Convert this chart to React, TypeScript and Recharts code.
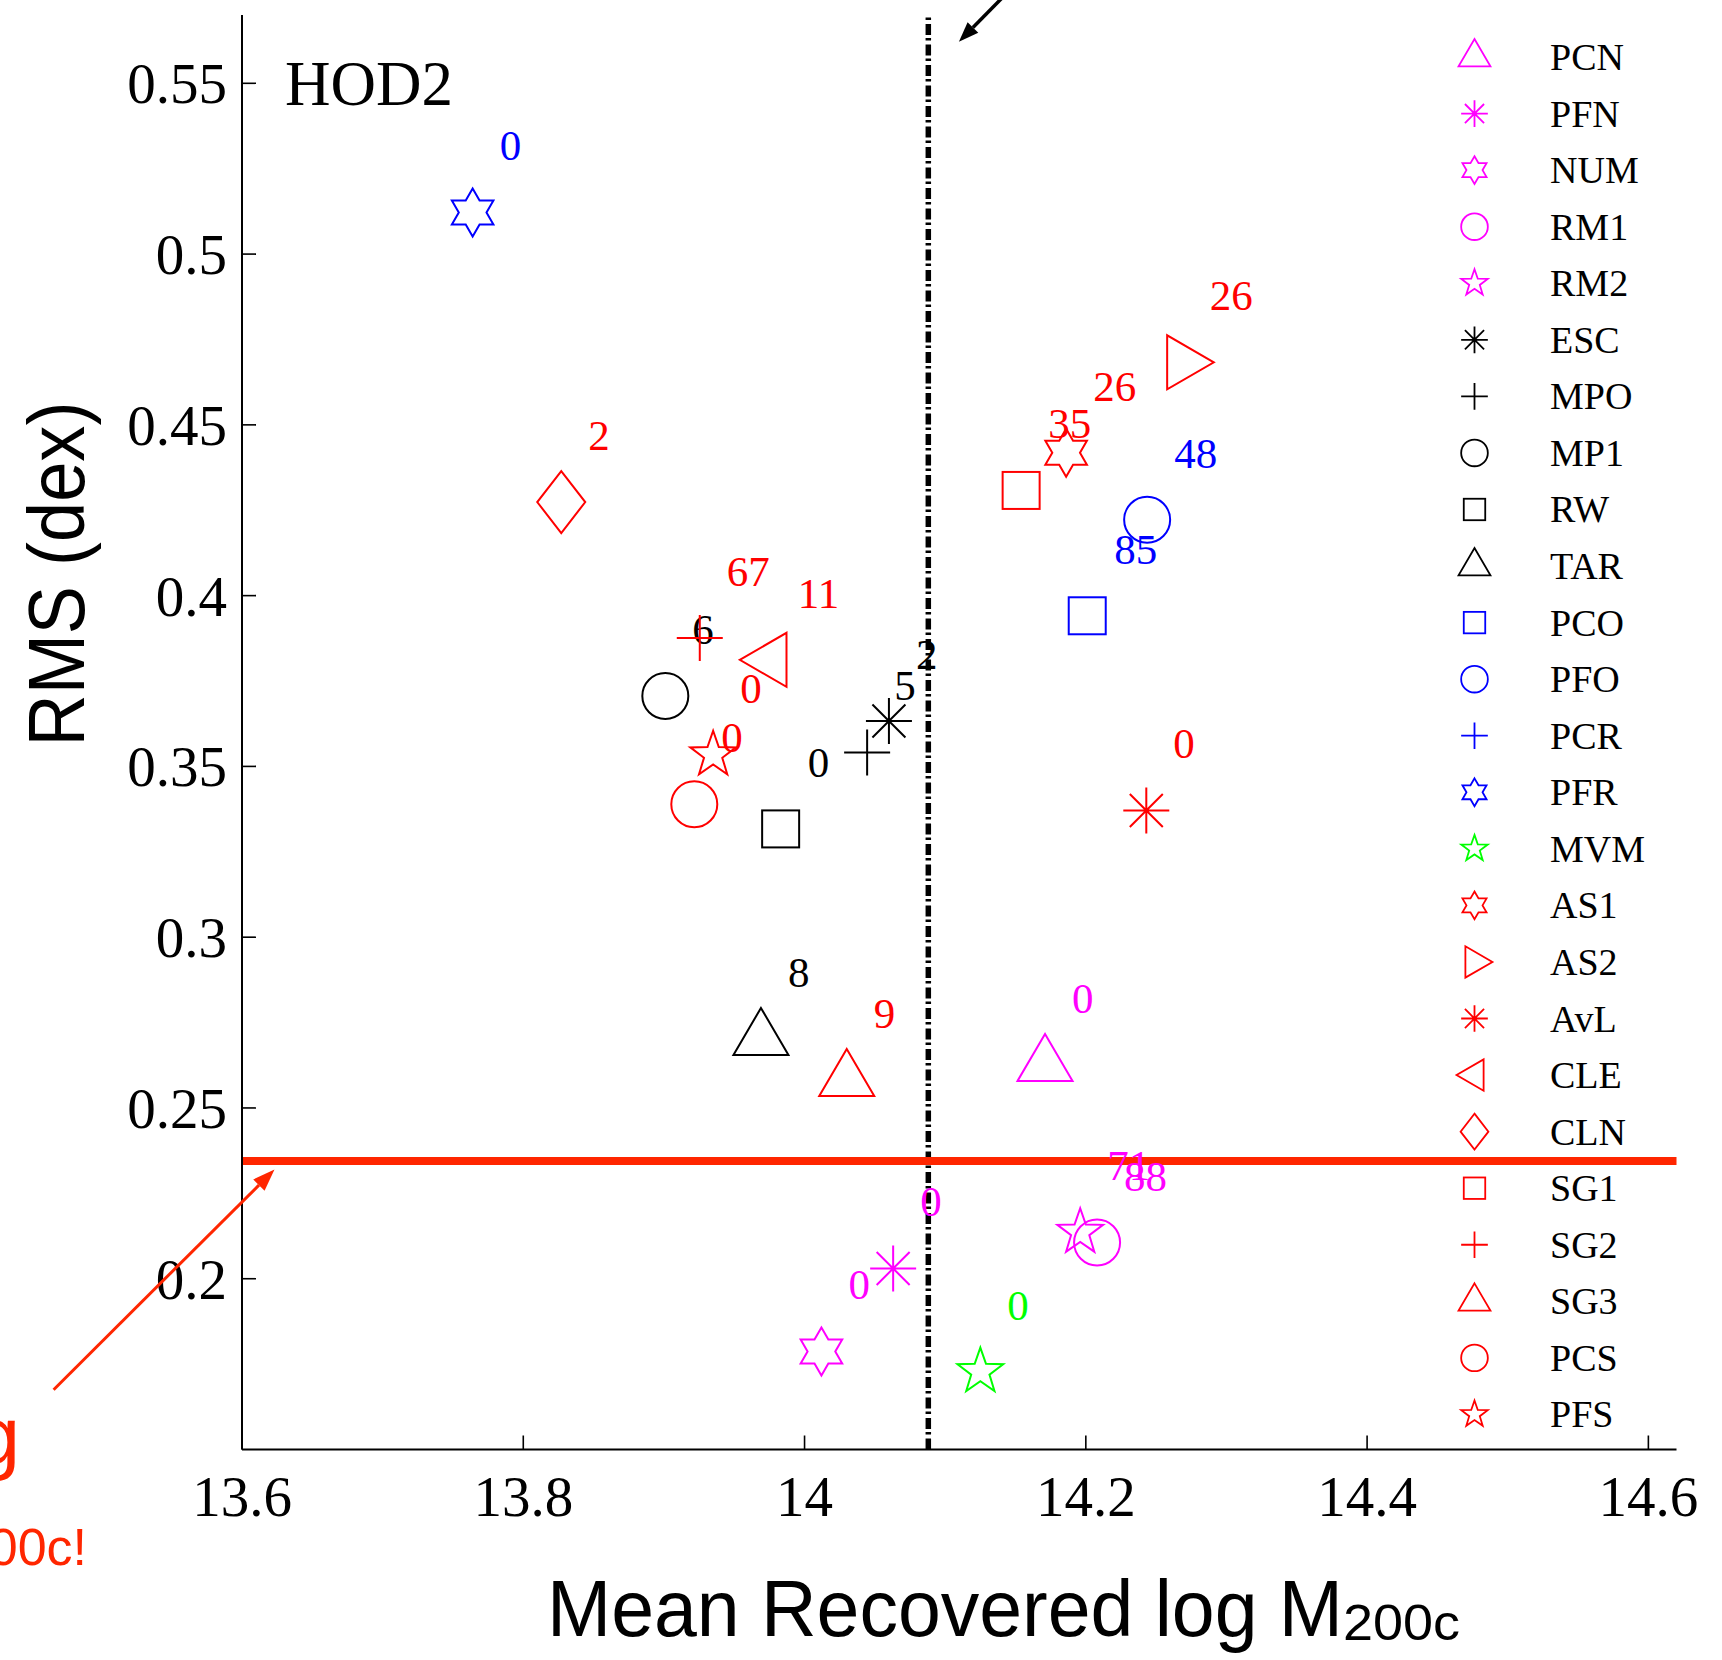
import React from 'react';
import { ScatterChart, Scatter, XAxis, YAxis, ReferenceLine, Legend } from 'recharts';

// ---------- data ----------
const methods = ['PCN', 'PFN', 'NUM', 'RM1', 'RM2', 'ESC', 'MPO', 'MP1', 'RW', 'TAR', 'PCO', 'PFO', 'PCR', 'PFR', 'MVM', 'AS1', 'AS2', 'AvL', 'CLE', 'CLN', 'SG1', 'SG2', 'SG3', 'PCS', 'PFS'];
const meanLogM: (number | null)[] = [14.171, 14.063, 14.012, 14.208, 14.196, 14.06, 14.0445, 13.901, 13.983, 13.969, 14.201, 14.2436, null, 13.764, 14.125, 14.186, 14.269, 14.243, 13.976, 13.827, 14.154, 13.9255, 14.03, 13.9216, 13.935];
const rmsDex: (number | null)[] = [0.2626, 0.203, 0.1787, 0.2106, 0.2136, 0.3633, 0.3541, 0.3706, 0.3317, 0.2702, 0.3941, 0.4222, null, 0.5122, 0.1728, 0.4418, 0.4683, 0.3371, 0.3812, 0.4274, 0.4308, 0.3876, 0.2582, 0.3389, 0.3534];
const pointLabels = ['0', '0', '0', '88', '71', '2', '5', '6', '0', '8', '85', '48', '', '0', '0', '26', '26', '0', '11', '2', '35', '67', '9', '0', '0'];

const xTicks = [13.6, 13.8, 14, 14.2, 14.4, 14.6];
const xTickLabels = ['13.6', '13.8', '14', '14.2', '14.4', '14.6'];
const yTicks = [0.2, 0.25, 0.3, 0.35, 0.4, 0.45, 0.5, 0.55];
const yTickLabels = ['0.2', '0.25', '0.3', '0.35', '0.4', '0.45', '0.5', '0.55'];
const xDomain: [number, number] = [13.6, 14.62];
const yDomain: [number, number] = [0.15, 0.57];
const massThreshold = 14.088;
const targetRms = 0.2345;

// ---------- styles ----------
const M = '#ff00ff', K = '#000000', B = '#0000ff', G = '#00ff00', R = '#ff0000';
const markerColors = [M, M, M, M, M, K, K, K, K, K, B, B, B, B, G, R, R, R, R, R, R, R, R, R, R];
const markerKinds = ['triUp', 'asterisk', 'hexagram', 'circle', 'pentagram', 'asterisk', 'plus', 'circle', 'square', 'triUp', 'square', 'circle', 'plus', 'hexagram', 'pentagram', 'hexagram', 'triRight', 'asterisk', 'triLeft', 'diamond', 'square', 'plus', 'triUp', 'circle', 'pentagram'];
const ANNOT = '#ff2600';
const SERIF = '"Liberation Serif", "DejaVu Serif", serif';
const SANS = '"Liberation Sans", Arial, sans-serif';

function starPoints(cx: number, cy: number, n: number, r: number, ratio: number) {
  const pts: string[] = [];
  for (let k = 0; k < 2 * n; k++) {
    const ang = -Math.PI / 2 + (k * Math.PI) / n;
    const rr = k % 2 === 0 ? r : r * ratio;
    pts.push(`${cx + rr * Math.cos(ang)},${cy + rr * Math.sin(ang)}`);
  }
  return pts.join(' ');
}

function Marker({ kind, cx, cy, color, s, sw }: { kind: string; cx: number; cy: number; color: string; s: number; sw: number }) {
  const c = { fill: 'none', stroke: color, strokeWidth: sw };
  switch (kind) {
    case 'circle':
      return <circle cx={cx} cy={cy} r={23 * s} {...c} />;
    case 'square':
      return <rect x={cx - 18.5 * s} y={cy - 18.5 * s} width={37 * s} height={37 * s} {...c} />;
    case 'triUp':
      return <polygon points={`${cx},${cy - 31 * s} ${cx + 27.5 * s},${cy + 16 * s} ${cx - 27.5 * s},${cy + 16 * s}`} {...c} />;
    case 'triRight':
      return <polygon points={`${cx + 31 * s},${cy} ${cx - 15.7 * s},${cy - 27 * s} ${cx - 15.7 * s},${cy + 27 * s}`} {...c} />;
    case 'triLeft':
      return <polygon points={`${cx - 31 * s},${cy} ${cx + 15.7 * s},${cy - 27 * s} ${cx + 15.7 * s},${cy + 27 * s}`} {...c} />;
    case 'diamond':
      return <polygon points={`${cx},${cy - 31 * s} ${cx + 24 * s},${cy} ${cx},${cy + 31 * s} ${cx - 24 * s},${cy}`} {...c} />;
    case 'plus':
      return <path d={`M${cx - 23 * s},${cy}H${cx + 23 * s}M${cx},${cy - 23 * s}V${cy + 23 * s}`} {...c} />;
    case 'asterisk': {
      const a = 23 * s, d = 16.5 * s;
      return <path d={`M${cx - a},${cy}H${cx + a}M${cx},${cy - a}V${cy + a}M${cx - d},${cy - d}L${cx + d},${cy + d}M${cx - d},${cy + d}L${cx + d},${cy - d}`} {...c} />;
    }
    case 'pentagram':
      return <polygon points={starPoints(cx, cy, 5, 24 * s, 0.4)} {...c} strokeLinejoin="miter" />;
    case 'hexagram':
      return <polygon points={starPoints(cx, cy, 6, 24 * s, 0.577)} {...c} />;
    default:
      return null;
  }
}

const makeShape = (i: number) => (props: any) => {
  const { cx, cy, payload } = props;
  if (cx == null || cy == null) return <g />;
  return (
    <g>
      <Marker kind={markerKinds[i]} cx={cx} cy={cy} color={markerColors[i]} s={1} sw={2} />
      <text x={cx + 27} y={cy - 52} fill={markerColors[i]} fontSize={43} fontFamily={SERIF}>
        {payload.label}
      </text>
    </g>
  );
};

const BottomTick = (p: any) => (
  <g>
    <line x1={p.x} x2={p.x} y1={p.y} y2={p.y - 14} stroke="#000" strokeWidth={1.6} />
    <text x={p.x} y={p.y + 66} textAnchor="middle" fontSize={57} fontFamily={SERIF} fill="#000">
      {xTickLabels[p.index]}
    </text>
  </g>
);
const TopTick = (p: any) => <line x1={p.x} x2={p.x} y1={p.y} y2={p.y + 14} stroke="#000" strokeWidth={1.6} />;
const LeftTick = (p: any) => (
  <g>
    <line x1={p.x} x2={p.x + 14} y1={p.y} y2={p.y} stroke="#000" strokeWidth={1.6} />
    <text x={p.x - 15} y={p.y + 20} textAnchor="end" fontSize={57} fontFamily={SERIF} fill="#000">
      {yTickLabels[p.index]}
    </text>
  </g>
);
const RightTick = (p: any) => <line x1={p.x} x2={p.x - 14} y1={p.y} y2={p.y} stroke="#000" strokeWidth={1.6} />;

const LEG_LEFT = 1440, LEG_TOP = 20;
const LegendBox = () => (
  <svg width={270} height={1430} style={{ overflow: 'visible', display: 'block' }}>
    {methods.map((m, i) => {
      const cy = 57 + i * 56.56 - LEG_TOP;
      return (
        <g key={m}>
          <Marker kind={markerKinds[i]} cx={1474.5 - LEG_LEFT} cy={cy} color={markerColors[i]} s={0.58} sw={1.8} />
          <text x={1550 - LEG_LEFT} y={cy + 13} fontSize={38} fontFamily={SERIF} fill="#000">
            {m}
          </text>
        </g>
      );
    })}
  </svg>
);

function arrowHead(x1: number, y1: number, x2: number, y2: number, len: number, hw: number) {
  const dx = x2 - x1, dy = y2 - y1;
  const L = Math.hypot(dx, dy);
  const ux = dx / L, uy = dy / L;
  const bx = x2 - ux * len, by = y2 - uy * len;
  return {
    base: [bx, by],
    pts: `${x2},${y2} ${bx - uy * hw},${by + ux * hw} ${bx + uy * hw},${by - ux * hw}`,
  };
}

export default function App() {
  const seriesData = methods.map((m, i) =>
    meanLogM[i] != null && rmsDex[i] != null ? [{ x: meanLogM[i], y: rmsDex[i], label: pointLabels[i] }] : []
  );
  const ra = arrowHead(53.6, 1389.7, 274.5, 1169.6, 22, 8);
  const ka = arrowHead(1002, -2, 958.9, 41.7, 20, 7.5);
  const axisStyle = { stroke: '#000', strokeWidth: 2 };
  return (
    <div style={{ position: 'absolute', left: 0, top: 0, width: 1722, height: 1660, background: '#fff' }}>
      <ScatterChart width={1722} height={1660} margin={{ top: 15, right: 45.5, bottom: 110.5, left: 122 }}>
        <XAxis xAxisId="b" type="number" dataKey="x" domain={xDomain} ticks={xTicks} interval={0} orientation="bottom" height={100} tickSize={0} tickMargin={0} axisLine={axisStyle} tickLine={false} tick={BottomTick} allowDataOverflow />
        <XAxis xAxisId="t" type="number" domain={xDomain} ticks={xTicks} interval={0} orientation="top" height={0} tickSize={0} tickMargin={0} axisLine={axisStyle} tickLine={false} tick={TopTick} allowDataOverflow />
        <YAxis yAxisId="l" type="number" dataKey="y" domain={yDomain} ticks={yTicks} interval={0} orientation="left" width={120} tickSize={0} tickMargin={0} axisLine={axisStyle} tickLine={false} tick={LeftTick} allowDataOverflow />
        <YAxis yAxisId="r" type="number" domain={yDomain} ticks={yTicks} interval={0} orientation="right" width={0} tickSize={0} tickMargin={0} axisLine={axisStyle} tickLine={false} tick={RightTick} allowDataOverflow />
        <ReferenceLine xAxisId="b" yAxisId="l" x={massThreshold} stroke="#000" strokeWidth={5.5} strokeDasharray="11 4 2.5 3" />
        {methods.map((m, i) => (
          <Scatter key={m} name={m} xAxisId="b" yAxisId="l" data={seriesData[i]} shape={makeShape(i)} isAnimationActive={false} />
        ))}
        <ReferenceLine xAxisId="b" yAxisId="l" y={targetRms} stroke={ANNOT} strokeWidth={8} />
        <Legend
          layout="vertical"
          align="center"
          verticalAlign="middle"
          content={() => <LegendBox />}
          wrapperStyle={{ position: 'absolute', left: LEG_LEFT, top: LEG_TOP, width: 270, height: 1430 }}
        />
      </ScatterChart>
      <svg width={1722} height={1660} style={{ position: 'absolute', left: 0, top: 0, pointerEvents: 'none' }}>
        <text x={285} y={105} fontSize={63} fontFamily={SERIF} fill="#000">HOD2</text>
        <text transform="translate(84,574) rotate(-90)" textAnchor="middle" fontSize={80} fontFamily={SANS} fill="#000" textLength={345} lengthAdjust="spacingAndGlyphs">
          RMS (dex)
        </text>
        <text x={547} y={1636} fontSize={80} fontFamily={SANS} fill="#000" textLength={796} lengthAdjust="spacingAndGlyphs">
          Mean Recovered log M
        </text>
        <text x={1343} y={1640} fontSize={50} fontFamily={SANS} fill="#000" textLength={117} lengthAdjust="spacingAndGlyphs">
          200c
        </text>
        <line x1={53.6} y1={1389.7} x2={ra.base[0]} y2={ra.base[1]} stroke={ANNOT} strokeWidth={3} />
        <polygon points={ra.pts} fill={ANNOT} />
        <line x1={1002} y1={-2} x2={ka.base[0]} y2={ka.base[1]} stroke="#000" strokeWidth={3.5} />
        <polygon points={ka.pts} fill="#000" />
        <text x={20} y={1464} textAnchor="end" fontSize={82} fontFamily={SANS} fill={ANNOT}>log</text>
        <text x={87} y={1565} textAnchor="end" fontSize={52} fontFamily={SANS} fill={ANNOT}>M200c!</text>
      </svg>
    </div>
  );
}
